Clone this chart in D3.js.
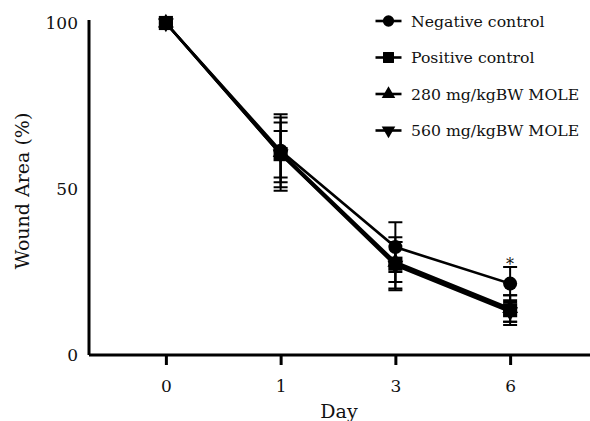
<!DOCTYPE html>
<html>
<head>
<meta charset="utf-8">
<script src="https://cdn.jsdelivr.net/npm/d3@7"></script>
<style>
  body { margin: 0; background: #fff; }
  text { font-family: "DejaVu Serif", serif; fill: #111; }
</style>
</head>
<body>
<div id="container"></div>
<script>
const days = ["0", "1", "3", "6"];
const seriesNames = ["Negative control", "280 mg/kgBW MOLE", "560 mg/kgBW MOLE", "Positive control"];
const seriesSymbols = ["circle", "triangle", "triangleDown", "square"];
const meanValues = [
  [100, 61.5, 32.5, 21.5],
  [100, 61, 28, 14],
  [100, 60.5, 27, 13],
  [100, 60.5, 27.5, 13.5]
];
const errValues = [
  [0, 11, 7.5, 5],
  [0, 9, 6, 4],
  [0, 7, 7, 3],
  [0, 11, 8, 4.5]
];
const legendOrder = ["Negative control", "Positive control", "280 mg/kgBW MOLE", "560 mg/kgBW MOLE"];
const yTicks = [0, 50, 100];

const width = 590, height = 421;
const svg = d3.select("#container").append("svg")
  .attr("width", width).attr("height", height);

const x = d3.scalePoint().domain(days).range([89, 587]).padding(0.67);
const y = d3.scaleLinear().domain([0, 100]).range([355, 23]);

const symbolMap = {
  circle: d3.symbolCircle,
  square: d3.symbolSquare,
  triangle: d3.symbolTriangle,
  triangleDown: d3.symbolTriangle
};
function symbolPath(name) {
  const size = name === "square" ? 200 : name === "circle" ? 155 : 110;
  return d3.symbol(symbolMap[name], size)();
}

// axes
const xAxis = svg.append("g")
  .attr("transform", `translate(0,${y(0)})`)
  .call(d3.axisBottom(x).tickSize(10).tickPadding(15));
xAxis.select(".domain").attr("d", `M89,0H${width}`).attr("stroke-width", 3).attr("stroke", "#000");
xAxis.selectAll(".tick line").attr("stroke-width", 3).attr("stroke", "#000");
xAxis.selectAll(".tick text").attr("font-size", 17).attr("font-family", "DejaVu Serif");

const yAxis = svg.append("g")
  .attr("transform", "translate(89,0)")
  .call(d3.axisLeft(y).tickValues(yTicks).tickSize(0).tickPadding(11));
yAxis.select(".domain").attr("d", `M0,${y(0)}V20`).attr("stroke-width", 3).attr("stroke", "#000");
yAxis.selectAll(".tick text").attr("font-size", 17).attr("font-family", "DejaVu Serif");

svg.append("text")
  .attr("transform", `translate(29,${y(50) + 2}) rotate(-90)`)
  .attr("text-anchor", "middle")
  .attr("font-size", 19)
  .text("Wound Area (%)");

svg.append("text")
  .attr("x", 339).attr("y", 418)
  .attr("text-anchor", "middle")
  .attr("font-size", 19)
  .text("Day");

// series
const line = d3.line().x((d, i) => x(days[i])).y(d => y(d));

seriesNames.forEach((name, s) => {
  const g = svg.append("g");
  g.append("path")
    .attr("d", line(meanValues[s]))
    .attr("fill", "none")
    .attr("stroke", "#000")
    .attr("stroke-width", 2.6);

  meanValues[s].forEach((v, i) => {
    const e = errValues[s][i];
    if (e > 0) {
      const cx = x(days[i]);
      g.append("path")
        .attr("d", `M${cx},${y(v + e)}V${y(v - e)}M${cx - 7},${y(v + e)}H${cx + 7}M${cx - 7},${y(v - e)}H${cx + 7}`)
        .attr("stroke", "#000").attr("stroke-width", 2).attr("fill", "none");
    }
  });

  g.selectAll(".pt")
    .data(meanValues[s])
    .join("path")
    .attr("d", symbolPath(seriesSymbols[s]))
    .attr("transform", (d, i) => `translate(${x(days[i])},${y(d)})` + (seriesSymbols[s] === "triangleDown" ? " rotate(180)" : ""))
    .attr("fill", "#000");
});

// significance mark
svg.append("text")
  .attr("x", x("6")).attr("y", y(meanValues[0][3] + errValues[0][3]) + 3)
  .attr("text-anchor", "middle")
  .attr("font-size", 16)
  .text("*");

// legend
const legend = svg.append("g").attr("transform", "translate(388.5,21)");
legendOrder.forEach((name, i) => {
  const s = seriesNames.indexOf(name);
  const row = legend.append("g").attr("transform", `translate(0,${i * 36.5})`);
  row.append("line").attr("x1", -13).attr("x2", 13)
    .attr("stroke", "#000").attr("stroke-width", 2.6);
  const sym = seriesSymbols[s];
  row.append("path")
    .attr("d", d3.symbol(symbolMap[sym], sym === "square" ? 120 : sym === "circle" ? 100 : 80)())
    .attr("transform", sym === "triangleDown" ? "rotate(180)" : null)
    .attr("fill", "#000");
  row.append("text")
    .attr("x", 22.5).attr("dy", "0.35em")
    .attr("font-size", 15.7)
    .text(name);
});
</script>
</body>
</html>
